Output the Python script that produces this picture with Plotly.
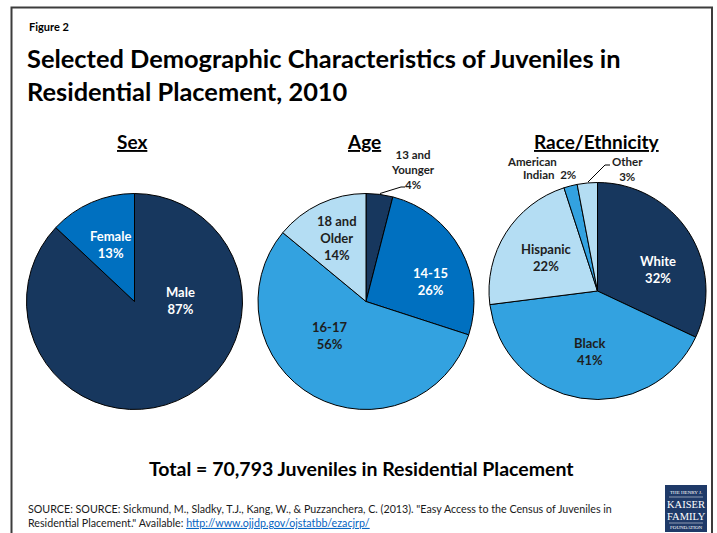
import plotly.graph_objects as go

W, H = 717, 533

# ---- data ----
sex_labels = ["Male", "Female"]
sex_values = [87, 13]
age_labels = ["13 and<br>Younger", "14-15", "16-17", "18 and<br>Older"]
age_values = [4, 26, 56, 14]
race_labels = ["White", "Black", "Hispanic", "American Indian", "Other"]
race_values = [32, 41, 22, 2, 3]

title_text = "Selected Demographic Characteristics of Juveniles in<br>Residential Placement, 2010"
total_text = "Total = 70,793 Juveniles in Residential Placement"

NAVY = "#17375E"
MID = "#0070C0"
SKY = "#33A2E0"
LIGHT = "#B4DDF3"
DARK_TXT = "#1E1E1E"
FONT = "Lato"


def px(x):
    return x / W


def py(y):
    return 1 - y / H


def dom(cx, cy, r):
    return dict(x=[px(cx - r), px(cx + r)], y=[py(cy + r), py(cy - r)])


pie_common = dict(sort=False, direction="clockwise", rotation=0, textinfo="none",
                  hoverinfo="label+percent", showlegend=False)

fig = go.Figure()
fig.add_trace(go.Pie(labels=sex_labels, values=sex_values, domain=dom(134.5, 301.5, 108),
                     marker=dict(colors=[NAVY, MID], line=dict(color="#000000", width=1)),
                     **pie_common))
fig.add_trace(go.Pie(labels=age_labels, values=age_values, domain=dom(366, 301.5, 108),
                     marker=dict(colors=[NAVY, MID, SKY, LIGHT], line=dict(color="#000000", width=1)),
                     **pie_common))
fig.add_trace(go.Pie(labels=race_labels, values=race_values, domain=dom(597.5, 291, 108.5),
                     marker=dict(colors=[NAVY, SKY, LIGHT, SKY, LIGHT], line=dict(color="#000000", width=1)),
                     **pie_common))

ann = []


def add(text, x, y, size, color=DARK_TXT, bold=True, xanchor="center", yanchor="middle",
        family=FONT, align="center"):
    t = f"<b>{text}</b>" if bold else text
    ann.append(dict(text=t, x=px(x), y=py(y), xref="paper", yref="paper", showarrow=False,
                    xanchor=xanchor, yanchor=yanchor, align=align,
                    font=dict(family=family, size=size, color=color)))


# headings
add("Figure 2", 27, 27, 11, color="#000000", xanchor="left")
add(title_text, 25, 74, 25.4, color="#000000", xanchor="left", align="left")
add("<u>Sex</u>", 132, 141, 19, color="#000000")
add("<u>Age</u>", 364, 141, 19, color="#000000")
add("<u>Race/Ethnicity</u>", 597, 141, 19, color="#000000")

# pie labels
LS = 13
add(f"{sex_labels[1]}<br>{sex_values[1]}%", 110, 244, LS, color="white")
add(f"{sex_labels[0]}<br>{sex_values[0]}%", 180, 300, LS, color="white")

add(f"{age_labels[0]}<br>{age_values[0]}%", 413, 169, 11.5)
add(f"{age_labels[1]}<br>{age_values[1]}%", 430, 281, LS, color="white")
add(f"{age_labels[2]}<br>{age_values[2]}%", 329, 335, LS)
add(f"{age_labels[3]}<br>{age_values[3]}%", 337, 238, LS)

add(f"{race_labels[0]}<br>{race_values[0]}%", 658, 269, LS, color="white")
add(f"{race_labels[1]}<br>{race_values[1]}%", 590, 351, LS)
add(f"{race_labels[2]}<br>{race_values[2]}%", 546, 257, LS)
am, ind = race_labels[3].split(" ")
add(am, 532, 161, 11.5)
add(f"{ind}  {race_values[3]}%", 549, 174, 11.5)
add(f"{race_labels[4]}<br>{race_values[4]}%", 627, 169, 11.5)

# total and source
add(total_text, 361, 468, 19.5, color="#000000")
add('SOURCE: SOURCE: Sickmund, M., Sladky, T.J., Kang, W., &amp; Puzzanchera, C. (2013). "Easy Access to the Census of Juveniles in<br>'
    'Residential Placement." Available: <a href="http://www.ojjdp.gov/ojstatbb/ezacjrp/" style="color:#0563C1"><u>http://www.ojjdp.gov/ojstatbb/ezacjrp/</u></a>',
    26, 515, 10.7, color="#1A1A1A", bold=False, xanchor="left", align="left")

# logo
add("THE HENRY J.", 686, 492, 5, color="white", bold=False, family="Liberation Serif")
add("KAISER", 686, 504, 10.5, color="white", bold=False, family="Liberation Serif")
add("FAMILY", 686, 516, 10.5, color="white", bold=False, family="Liberation Serif")
add("FOUNDATION", 686, 527, 5, color="white", bold=False, family="Liberation Serif")

shapes = [
    # frame
    dict(type="rect", xref="paper", yref="paper", x0=px(11.5), x1=px(712), y0=py(540), y1=py(7.5),
         line=dict(color="#3C3C3C", width=2), fillcolor="rgba(0,0,0,0)", layer="below"),
    # logo box
    dict(type="rect", xref="paper", yref="paper", x0=px(665), x1=px(707), y0=py(532), y1=py(485),
         line=dict(width=0), fillcolor="#1F3A68"),
    dict(type="line", xref="paper", yref="paper", x0=px(669), x1=px(703), y0=py(497), y1=py(497),
         line=dict(color="white", width=0.5)),
    dict(type="line", xref="paper", yref="paper", x0=px(669), x1=px(703), y0=py(523), y1=py(523),
         line=dict(color="white", width=0.5)),
    # leader lines
    dict(type="path", xref="paper", yref="paper",
         path=f"M {px(380)},{py(193.5)} L {px(401)},{py(187)} L {px(405)},{py(187)}",
         line=dict(color="#000000", width=1)),
    dict(type="path", xref="paper", yref="paper",
         path=f"M {px(588)},{py(182)} L {px(605)},{py(165)} L {px(610)},{py(165)}",
         line=dict(color="#000000", width=1)),
]

fig.update_layout(width=W, height=H, margin=dict(l=0, r=0, t=0, b=0),
                  paper_bgcolor="white", plot_bgcolor="white",
                  annotations=ann, shapes=shapes, showlegend=False)

fig.write_html("out.html")
